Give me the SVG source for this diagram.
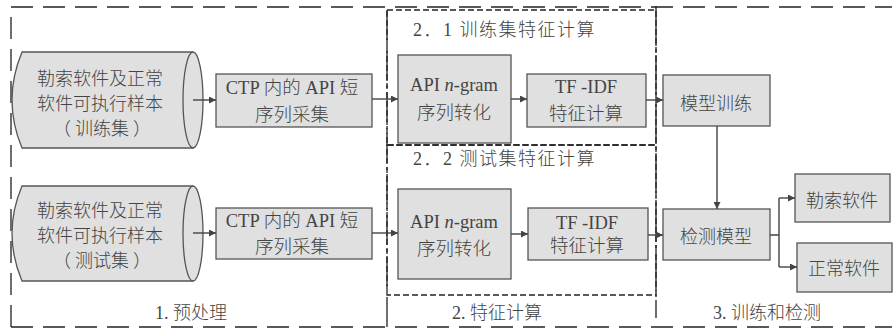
<svg xmlns="http://www.w3.org/2000/svg" width="896" height="331" viewBox="0 0 896 331">
<defs>
<style>
.box{fill:#e0e0e0;stroke:#555;stroke-width:1.3}
.t{font-family:"Liberation Serif","Noto Sans CJK SC",serif;font-size:18.5px;font-weight:300;fill:#444;text-anchor:middle;dominant-baseline:central}
.cn{font-family:"Noto Sans CJK SC",sans-serif;font-size:18px;font-weight:300;fill:#444;text-anchor:middle;dominant-baseline:central}
.lbl{font-family:"Liberation Serif","Noto Sans CJK SC",serif;font-size:18px;font-weight:300;fill:#444;dominant-baseline:central}
.frame{fill:none;stroke:#222;stroke-width:1.3;stroke-dasharray:22,10}
.inner{fill:none;stroke:#222;stroke-width:1.3;stroke-dasharray:6,3}
.conn{fill:none;stroke:#444;stroke-width:1.4}
</style>
<marker id="ah" viewBox="0 0 10 10" refX="10" refY="5" markerWidth="8" markerHeight="7" markerUnits="userSpaceOnUse" orient="auto"><path d="M0,0 L10,5 L0,10 Z" fill="#444"/></marker>
</defs>

<g id="frames">
<path class="frame" d="M11,327 V7 H892"/>
<path class="frame" d="M11,327 H892"/>
<path fill="none" stroke="#222" stroke-width="1.3" stroke-dasharray="30,4,3,4" d="M387,10 V327"/>
<path fill="none" stroke="#222" stroke-width="1.3" stroke-dasharray="40,3,3,3" d="M656,6 V318"/>
<rect class="inner" x="387" y="10" width="269" height="135"/>
<rect class="inner" x="387" y="145" width="269" height="150"/>
</g>

<g id="sec1-label"><text class="lbl" x="155" y="313">1. 预处理</text></g>
<g id="sec2-label"><text class="lbl" x="452" y="313">2. 特征计算</text></g>
<g id="sec3-label"><text class="lbl" x="713" y="313">3. 训练和检测</text></g>
<g id="sec21-label"><text class="lbl" x="413" y="30" letter-spacing="1.5">2．1  训练集特征计算</text></g>
<g id="sec22-label"><text class="lbl" x="413" y="159" letter-spacing="1.5">2．2  测试集特征计算</text></g>

<g id="train-samples">
<path class="box" d="M22,52 H193 A10,48 0 0 1 193,148 H22 Q2,100 22,52 Z"/>
<path fill="none" stroke="#555" stroke-width="1.3" d="M193,52 A10,48 0 0 0 193,148"/>
<text class="cn" x="100" y="77">勒索软件及正常</text>
<text class="cn" x="100" y="102">软件可执行样本</text>
<text class="cn" x="102" y="127">（ 训练集 ）</text>
</g>

<g id="test-samples">
<path class="box" d="M22,186 H193 A10,47.5 0 0 1 193,281 H22 Q2,233.5 22,186 Z"/>
<path fill="none" stroke="#555" stroke-width="1.3" d="M193,186 A10,47.5 0 0 0 193,281"/>
<text class="cn" x="100" y="209">勒索软件及正常</text>
<text class="cn" x="100" y="234">软件可执行样本</text>
<text class="cn" x="102" y="259">（ 测试集 ）</text>
</g>

<g id="ctp1">
<rect class="box" x="216" y="74" width="156" height="53"/>
<text class="t" x="292" y="88">CTP 内的 API 短</text>
<text class="t" x="292" y="115">序列采集</text>
</g>
<g id="ctp2">
<rect class="box" x="216" y="208" width="156" height="51"/>
<text class="t" x="292" y="221">CTP 内的 API 短</text>
<text class="t" x="292" y="247">序列采集</text>
</g>

<g id="ngram1">
<rect class="box" x="398" y="55" width="113" height="88"/>
<text class="t" x="454" y="85">API <tspan font-style="italic">n</tspan>-gram</text>
<text class="t" x="454" y="113">序列转化</text>
</g>
<g id="ngram2">
<rect class="box" x="398" y="189" width="113" height="90"/>
<text class="t" x="454" y="222">API <tspan font-style="italic">n</tspan>-gram</text>
<text class="t" x="454" y="249">序列转化</text>
</g>

<g id="tfidf1">
<rect class="box" x="527" y="74" width="119" height="53"/>
<text class="t" x="586" y="87">TF -IDF</text>
<text class="t" x="586" y="114">特征计算</text>
</g>
<g id="tfidf2">
<rect class="box" x="528" y="208" width="120" height="52"/>
<text class="t" x="587" y="223">TF -IDF</text>
<text class="t" x="587" y="246">特征计算</text>
</g>

<g id="train-model">
<rect class="box" x="663" y="75" width="107" height="51"/>
<text class="cn" x="716" y="102">模型训练</text>
</g>
<g id="detect-model">
<rect class="box" x="663" y="209" width="107" height="51"/>
<text class="cn" x="716" y="235">检测模型</text>
</g>
<g id="ransom">
<rect class="box" x="795" y="174" width="95" height="48"/>
<text class="cn" x="842" y="199">勒索软件</text>
</g>
<g id="normal">
<rect class="box" x="797" y="243" width="95" height="49"/>
<text class="cn" x="844" y="267">正常软件</text>
</g>

<g id="connectors">
<path class="conn" marker-end="url(#ah)" d="M193,100 H216"/>
<path class="conn" marker-end="url(#ah)" d="M193,233 H216"/>
<path class="conn" marker-end="url(#ah)" d="M372,99 H398"/>
<path class="conn" marker-end="url(#ah)" d="M372,233 H398"/>
<path class="conn" marker-end="url(#ah)" d="M511,99 H527"/>
<path class="conn" marker-end="url(#ah)" d="M511,234 H528"/>
<path class="conn" marker-end="url(#ah)" d="M646,100 H663"/>
<path class="conn" marker-end="url(#ah)" d="M648,235 H663"/>
<path class="conn" marker-end="url(#ah)" d="M717,126 V209"/>
<path class="conn" d="M770,235 H779 M779,198 V267"/>
<path class="conn" marker-end="url(#ah)" d="M779,198 H795"/>
<path class="conn" marker-end="url(#ah)" d="M779,267 H797"/>
</g>
</svg>
